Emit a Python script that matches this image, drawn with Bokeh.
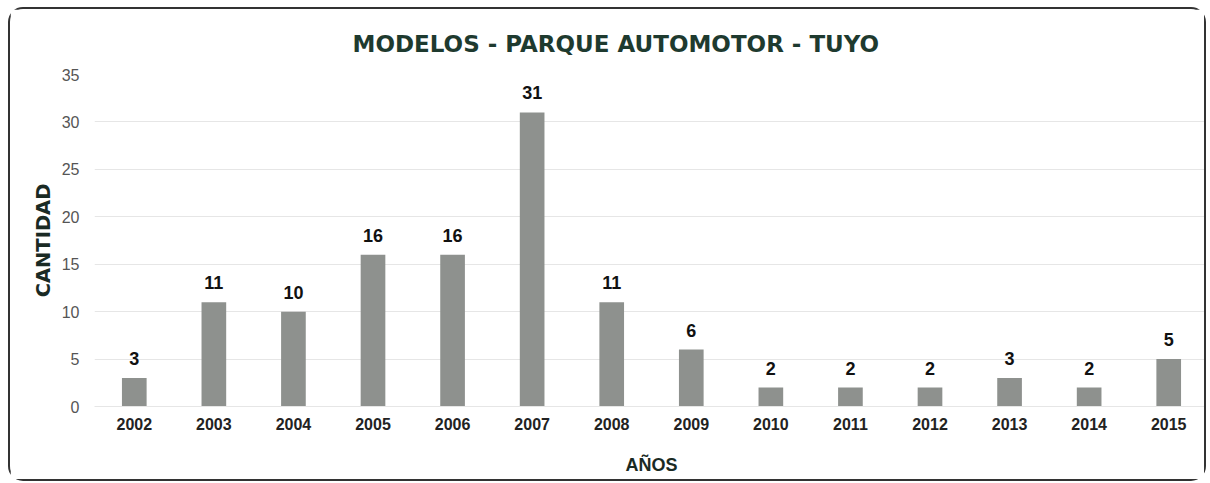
from bokeh.plotting import figure
from bokeh.models import ColumnDataSource, LabelSet, FactorRange, Range1d, FixedTicker
from bokeh.core.properties import value
from bokeh.embed import file_html
from bokeh.resources import INLINE

years = ["2002", "2003", "2004", "2005", "2006", "2007", "2008",
         "2009", "2010", "2011", "2012", "2013", "2014", "2015"]
counts = [3, 11, 10, 16, 16, 31, 11, 6, 2, 2, 2, 3, 2, 5]
y_ticks = [0, 5, 10, 15, 20, 25, 30, 35]

title_text = "MODELOS - PARQUE AUTOMOTOR - TUYO"
x_title = "AÑOS"
y_title = "CANTIDAD"

src = ColumnDataSource(data=dict(years=years, counts=counts,
                                 labels=[str(c) for c in counts]))

p = figure(width=1198, height=474, output_backend="svg", toolbar_location=None,
           x_range=FactorRange(*years, range_padding=0),
           y_range=Range1d(0, 35),
           min_border_left=84, min_border_right=0,
           min_border_top=65, min_border_bottom=77)

p.margin = (7, 0, 0, 8)
p.styles = {"border": "2px solid #333333", "border-radius": "15px",
            "box-sizing": "border-box"}

p.title.text = title_text
p.title.align = "left"
p.title.offset = 258
p.title.text_font = "DejaVu Sans"
p.title.text_font_size = "23px"
p.title.text_font_style = "bold"
p.title.text_color = "#1e3a2f"
p.title.standoff = 35

p.vbar(x="years", top="counts", width=0.31, source=src,
       fill_color="#8e918e", line_color=None)

labels = LabelSet(x="years", y="counts", text="labels", source=src,
                  text_align="center", text_baseline="alphabetic", y_offset=13,
                  text_font=value("Liberation Sans"), text_font_style="bold",
                  text_font_size="18px", text_color="#111111")
p.add_layout(labels)

p.outline_line_color = None
p.background_fill_color = "white"
p.border_fill_color = "white"

p.xgrid.grid_line_color = None
p.ygrid.grid_line_color = "#e6e6e6"
p.ygrid.grid_line_width = 1

p.yaxis.ticker = FixedTicker(ticks=y_ticks)
p.yaxis.axis_line_color = None
p.yaxis.major_tick_line_color = None
p.yaxis.minor_tick_line_color = None
p.yaxis.major_label_text_font = "Liberation Sans"
p.yaxis.major_label_text_font_size = "16px"
p.yaxis.major_label_text_color = "#555555"
p.yaxis.major_label_standoff = 9
p.yaxis.axis_label = y_title
p.yaxis.axis_label_text_font = "DejaVu Sans"
p.yaxis.axis_label_text_font_style = "bold"
p.yaxis.axis_label_text_font_size = "19.5px"
p.yaxis.axis_label_text_color = "#1a2a24"
p.yaxis.axis_label_standoff = 4

p.xaxis.axis_line_color = "#e6e6e6"
p.xaxis.major_tick_line_color = None
p.xaxis.minor_tick_line_color = None
p.xaxis.major_label_text_font = "Liberation Sans"
p.xaxis.major_label_text_font_style = "bold"
p.xaxis.major_label_text_font_size = "16px"
p.xaxis.major_label_text_color = "#222222"
p.xaxis.major_label_standoff = 5
p.xaxis.axis_label = x_title
p.xaxis.axis_label_text_font = "Liberation Sans"
p.xaxis.axis_label_text_font_style = "bold"
p.xaxis.axis_label_text_font_size = "18px"
p.xaxis.axis_label_text_color = "#1a2a24"
p.xaxis.axis_label_standoff = 22

open("out.html", "w").write(file_html(p, INLINE))
